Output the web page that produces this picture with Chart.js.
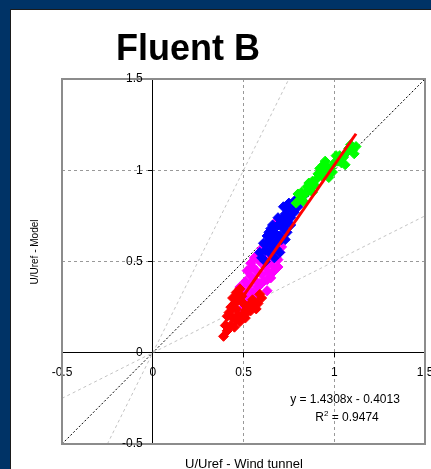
<!DOCTYPE html>
<html>
<head>
<meta charset="utf-8">
<title>Fluent B</title>
<script src="https://cdn.jsdelivr.net/npm/chart.js@4.4.1/dist/chart.umd.min.js"></script>
<style>
  html, body { margin: 0; padding: 0; background: #003366; }
  #box { position: absolute; left: 0; top: 0; width: 431px; height: 469px; }
</style>
</head>
<body>
<div id="box"><canvas id="chart" width="431" height="469"></canvas></div>
<script>
// tick labels shared by both axes
const tickValues = [-0.5, 0, 0.5, 1, 1.5];

const redX = [0.39, 0.41, 0.43, 0.45, 0.46, 0.48, 0.49, 0.51, 0.52, 0.54, 0.56, 0.58, 0.60, 0.42, 0.43, 0.45, 0.46, 0.47, 0.49, 0.50, 0.41, 0.53, 0.55, 0.44,
              0.44, 0.46, 0.48, 0.40, 0.57, 0.59, 0.51, 0.47];
const redY = [0.09, 0.12, 0.15, 0.14, 0.18, 0.17, 0.20, 0.19, 0.22, 0.23, 0.25, 0.27, 0.30, 0.22, 0.25, 0.27, 0.24, 0.29, 0.31, 0.27, 0.20, 0.26, 0.29, 0.19,
              0.30, 0.33, 0.35, 0.15, 0.24, 0.32, 0.23, 0.21];

const magentaX = [0.47, 0.48, 0.50, 0.51, 0.52, 0.53, 0.54, 0.55, 0.56, 0.57, 0.58, 0.59, 0.60, 0.61, 0.62, 0.63, 0.64, 0.65, 0.66, 0.67, 0.68, 0.69, 0.70, 0.58, 0.60, 0.62, 0.55, 0.53, 0.57, 0.50, 0.49, 0.51,
                  0.52, 0.54, 0.56, 0.63, 0.66, 0.69, 0.71, 0.61, 0.59, 0.64, 0.67, 0.69];
const magentaY = [0.32, 0.36, 0.34, 0.39, 0.30, 0.37, 0.42, 0.33, 0.40, 0.45, 0.36, 0.50, 0.43, 0.39, 0.47, 0.34, 0.44, 0.41, 0.48, 0.45, 0.52, 0.47, 0.55, 0.54, 0.57, 0.51, 0.47, 0.28, 0.31, 0.25, 0.22, 0.26,
                  0.45, 0.49, 0.52, 0.40, 0.44, 0.51, 0.58, 0.55, 0.38, 0.50, 0.70, 0.73];

const blueX = [0.60, 0.62, 0.63, 0.64, 0.65, 0.66, 0.67, 0.68, 0.69, 0.70, 0.71, 0.72, 0.73, 0.74, 0.75, 0.76, 0.77, 0.78, 0.79, 0.80, 0.82, 0.66, 0.69, 0.72, 0.70, 0.67, 0.73, 0.64, 0.62, 0.59,
               0.61, 0.63, 0.68, 0.74, 0.71, 0.76, 0.78, 0.84, 0.65, 0.75];
const blueY = [0.52, 0.56, 0.60, 0.55, 0.63, 0.58, 0.66, 0.61, 0.70, 0.64, 0.73, 0.68, 0.76, 0.71, 0.79, 0.74, 0.81, 0.77, 0.84, 0.80, 0.86, 0.70, 0.74, 0.80, 0.55, 0.52, 0.62, 0.66, 0.50, 0.55,
               0.60, 0.64, 0.57, 0.66, 0.62, 0.70, 0.83, 0.87, 0.68, 0.82];

const greenX = [0.79, 0.81, 0.82, 0.84, 0.85, 0.87, 0.88, 0.90, 0.91, 0.93, 0.95, 0.96, 0.98, 1.00, 1.02, 1.03, 1.05, 1.07, 1.08, 1.10, 1.12, 0.83, 0.89, 0.94, 0.99, 1.04,
                0.80, 0.86, 0.92, 0.97, 1.01, 1.06, 1.09, 1.11, 0.88, 0.95];
const greenY = [0.82, 0.84, 0.88, 0.87, 0.91, 0.90, 0.94, 0.95, 0.98, 0.97, 1.00, 1.02, 1.01, 1.04, 1.05, 1.08, 1.07, 1.10, 1.12, 1.11, 1.13, 0.83, 0.92, 1.03, 0.99, 1.04,
                0.87, 0.93, 1.01, 0.96, 1.08, 1.03, 1.14, 1.09, 0.88, 1.05];

// linear trend end points (y = 1.4308x - 0.4013)
const trendX = [0.38, 1.12];
const trendY = [0.14, 1.20];

// guide lines through the origin: 1:1, slope 2, slope 0.5
const oneX = [-0.5, 1.5], oneY = [-0.5, 1.5];
const steepX = [-0.25, 0.75], steepY = [-0.5, 1.5];
const flatX = [-0.5, 1.5], flatY = [-0.25, 0.75];

const equation = 'y = 1.4308x - 0.4013';
const rSquared = '0.9474';

function pts(xs, ys) {
  return xs.map((x, i) => ({ x: x, y: ys[i] }));
}

const FONT = '"Liberation Sans", Arial, sans-serif';

function markers(label, xs, ys, color) {
  return {
    label: label,
    data: pts(xs, ys),
    pointStyle: 'rectRot',
    pointRadius: 5,
    backgroundColor: color,
    borderColor: color,
    borderWidth: 1,
    showLine: false
  };
}

function guide(xs, ys, color, dash) {
  return {
    data: pts(xs, ys),
    showLine: true,
    borderColor: color,
    borderWidth: 1,
    borderDash: dash,
    pointRadius: 0
  };
}

// blue slide background, captions, y tick labels and plot frame
const decor = {
  id: 'decor',
  beforeDraw(chart) {
    const ctx = chart.ctx;
    ctx.save();
    ctx.fillStyle = '#003366';
    ctx.fillRect(0, 0, 431, 469);
    ctx.fillStyle = '#ffffff';
    ctx.fillRect(11, 10, 420, 459);
    ctx.strokeStyle = '#1b1b1b';
    ctx.lineWidth = 1;
    ctx.beginPath();
    ctx.moveTo(10.5, 469);
    ctx.lineTo(10.5, 9.5);
    ctx.lineTo(431, 9.5);
    ctx.stroke();
    ctx.restore();
  },
  afterDraw(chart) {
    const ctx = chart.ctx;
    const a = chart.chartArea;
    const xs = chart.scales.x, ys = chart.scales.y;
    ctx.save();
    ctx.strokeStyle = '#8c8c8c';
    ctx.lineWidth = 2;
    ctx.strokeRect(a.left, a.top, a.right - a.left, a.bottom - a.top);

    // y tick labels, right-aligned left of the centred axis
    ctx.fillStyle = '#000';
    ctx.font = '12px ' + FONT;
    ctx.textAlign = 'right';
    ctx.textBaseline = 'middle';
    const axisX = xs.getPixelForValue(0);
    ys.ticks.forEach(t => {
      ctx.fillText(String(t.value), axisX - 10, ys.getPixelForValue(t.value));
    });

    ctx.textAlign = 'center';
    ctx.textBaseline = 'alphabetic';
    ctx.font = 'bold 36px ' + FONT;
    ctx.fillText('Fluent B', 188, 60);

    ctx.font = '12px ' + FONT;
    ctx.textBaseline = 'middle';
    ctx.fillText(equation, 345, 400);

    // R² with superscript
    const big = '12px ' + FONT, small = '8px ' + FONT;
    ctx.font = big;
    const wR = ctx.measureText('R').width;
    const wRest = ctx.measureText(' = ' + rSquared).width;
    ctx.font = small;
    const w2 = ctx.measureText('2').width;
    let x = 347 - (wR + w2 + wRest) / 2;
    ctx.textAlign = 'left';
    ctx.font = big;
    ctx.fillText('R', x, 418);
    ctx.font = small;
    ctx.fillText('2', x + wR, 414);
    ctx.font = big;
    ctx.fillText(' = ' + rSquared, x + wR + w2, 418);

    ctx.textAlign = 'center';
    ctx.textBaseline = 'top';
    ctx.font = '13px ' + FONT;
    ctx.fillText('U/Uref - Wind tunnel', 244, 458);

    ctx.translate(35.5, 252);
    ctx.rotate(-Math.PI / 2);
    ctx.textBaseline = 'middle';
    ctx.font = '10px ' + FONT;
    ctx.fillText('U/Uref - Model', 0, 0);
    ctx.restore();
  }
};

function axis(other, showTicks) {
  return {
    type: 'linear',
    min: -0.5,
    max: 1.5,
    position: { [other]: 0 },
    afterBuildTicks: s => { s.ticks = tickValues.map(v => ({ value: v })); },
    afterFit: s => {
      if (s.isHorizontal()) s.height = 0; else s.width = 0;
      s.paddingLeft = s.paddingRight = s.paddingTop = s.paddingBottom = 0;
    },
    grid: {
      color: '#999999',
      lineWidth: 1,
      tickLength: 4,
      tickColor: '#000',
      tickBorderDash: []
    },
    border: { display: true, color: '#000', width: 1, dash: [3, 3] },
    ticks: {
      display: showTicks,
      color: '#000',
      padding: 9,
      font: { family: FONT, size: 12 },
      callback: v => String(v)
    }
  };
}

new Chart(document.getElementById('chart'), {
  type: 'scatter',
  data: {
    datasets: [
      {
        data: pts(trendX, trendY),
        showLine: true,
        borderColor: '#ff0000',
        borderWidth: 3,
        pointRadius: 0
      },
      markers('Series 4', greenX, greenY, '#00ff00'),
      markers('Series 3', blueX, blueY, '#0000ff'),
      markers('Series 1', redX, redY, '#ff0000'),
      markers('Series 2', magentaX, magentaY, '#ff00ff'),
      guide(oneX, oneY, '#000000', [2, 2]),
      guide(steepX, steepY, '#c4c4c4', [3, 3]),
      guide(flatX, flatY, '#c4c4c4', [3, 3])
    ]
  },
  options: {
    responsive: false,
    animation: false,
    layout: { padding: { left: 62, top: 79, right: 6, bottom: 25 } },
    plugins: { legend: { display: false }, tooltip: { enabled: false }, title: { display: false } },
    scales: {
      x: axis('y', true),
      y: axis('x', false)
    }
  },
  plugins: [decor]
});
</script>
</body>
</html>
